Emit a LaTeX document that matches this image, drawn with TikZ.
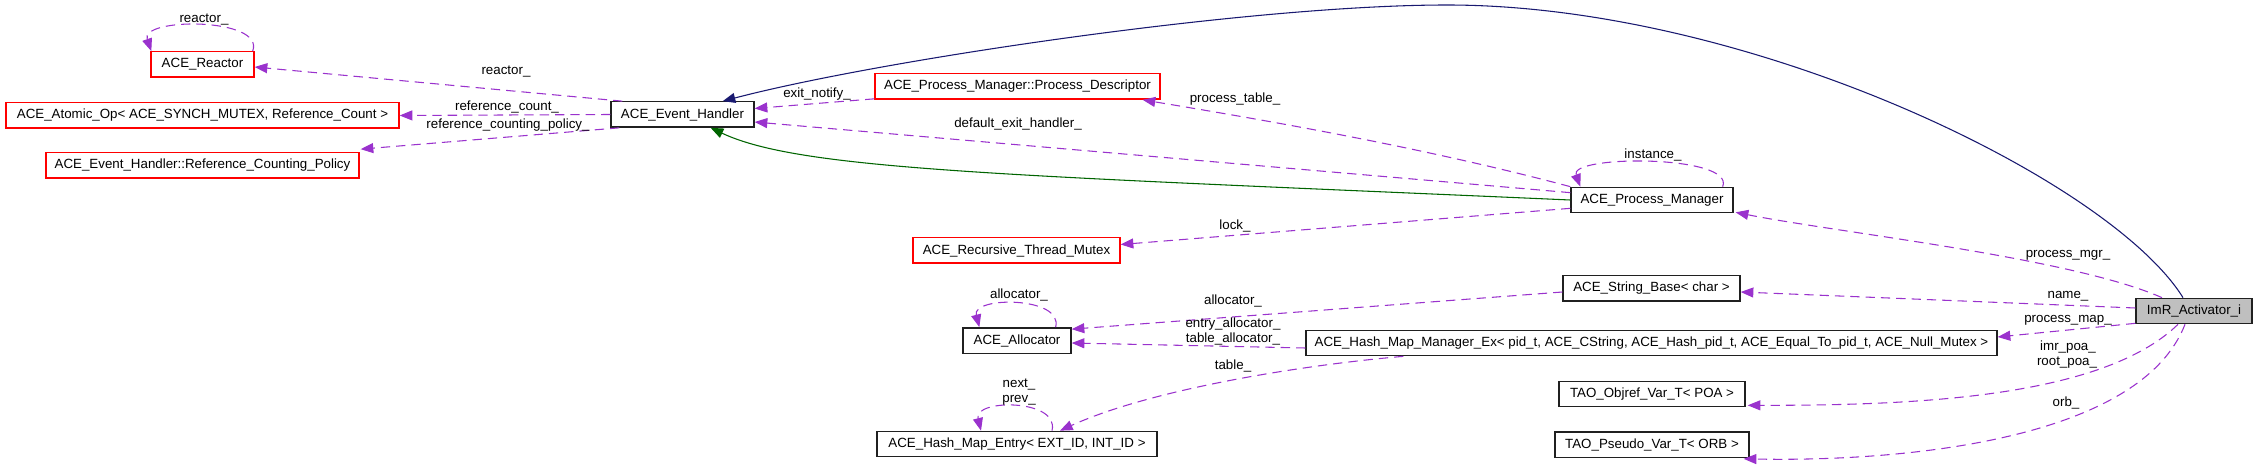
\documentclass[tikz,border=0pt]{standalone}
\usepackage{fontspec}
\setmainfont{Liberation Sans}
\usetikzlibrary{arrows.meta,calc}
\definecolor{depc}{HTML}{9A32CD}
\definecolor{inhblue}{HTML}{191970}
\definecolor{inhgreen}{HTML}{006400}
\definecolor{boxgray}{HTML}{BFBFBF}
\definecolor{boxline}{HTML}{202020}
\begin{document}
\begin{tikzpicture}[x=0.75pt,y=-0.75pt,
  font=\fontsize{10}{12}\selectfont,
  cls/.style={draw=boxline, line width=1pt, fill=white, minimum height=19pt, inner sep=0pt},
  redcls/.style={cls, draw=red},
  dep/.style={draw=depc, line width=0.8pt, dash pattern=on 7pt off 4.5pt, -{Triangle[length=9.5pt,width=7.5pt]}},
  inh/.style={line width=0.8pt, -{Triangle[length=9.5pt,width=7.5pt]}},
  lbl/.style={inner sep=0pt, text height=7pt, text depth=2pt}
]
\useasboundingbox (0,0) rectangle (2259,470);

% classes
\node[redcls, minimum width=77.25pt] (reactor) at (202.5,64.5) {ACE\_Reactor};
\node[redcls, minimum width=294.75pt] (atomic) at (202.5,115.5) {ACE\_Atomic\_Op< ACE\_SYNCH\_MUTEX, Reference\_Count >};
\node[redcls, minimum width=234.75pt] (rcp) at (202.5,165.5) {ACE\_Event\_Handler::Reference\_Counting\_Policy};
\node[cls, minimum width=107.25pt] (eh) at (682.5,114.5) {ACE\_Event\_Handler};
\node[redcls, minimum width=213.75pt] (pd) at (1017.5,86.5) {ACE\_Process\_Manager::Process\_Descriptor};
\node[redcls, minimum width=155.25pt] (rtm) at (1016.5,250.5) {ACE\_Recursive\_Thread\_Mutex};
\node[cls, minimum width=81pt] (alloc) at (1017,340.5) {ACE\_Allocator};
\node[cls, minimum width=210pt] (hme) at (1017,444) {ACE\_Hash\_Map\_Entry< EXT\_ID, INT\_ID >};
\node[cls, minimum width=121.5pt] (pm) at (1652,200) {ACE\_Process\_Manager};
\node[cls, minimum width=132.75pt] (sb) at (1651.5,288.5) {ACE\_String\_Base< char >};
\node[cls, minimum width=518.25pt] (hmm) at (1651.5,343) {ACE\_Hash\_Map\_Manager\_Ex< pid\_t, ACE\_CString, ACE\_Hash\_pid\_t, ACE\_Equal\_To\_pid\_t, ACE\_Null\_Mutex >};
\node[cls, minimum width=139.5pt] (objref) at (1652,394) {TAO\_Objref\_Var\_T< POA >};
\node[cls, minimum width=145.5pt] (pseudo) at (1652,444.5) {TAO\_Pseudo\_Var\_T< ORB >};
\node[cls, fill=boxgray, minimum width=87pt] (imr) at (2194,311) {ImR\_Activator\_i};

% inheritance
\draw[inh, inhblue] ($(imr.north)+(-11,0)$) .. controls (2110,180) and (1750,5) .. (1447,5)
   .. controls (1250,5) and (880,60) .. ($(eh.north east)+(-32,0)$);
\draw[inh, inhgreen] (pm.west) .. controls (1000,175) and (800,170) .. ($(eh.south east)+(-44,0)$);

% usage
\draw[dep] ($(reactor.north east)+(-2,0)$) .. controls +(13,-34) and +(-12,-34) .. ($(reactor.north west)+(1,0)$);
\draw[dep] ($(eh.north west)+(12,0)$) -- ($(reactor.east)+(0,2.5)$);
\draw[dep] (eh.west) -- (atomic.east);
\draw[dep] ($(eh.south west)+(9,0)$) -- ($(rcp.north east)+(1,-3)$);
\draw[dep] ($(pd.south west)+(0,-1)$) -- ($(eh.east)+(0,-6)$);
\draw[dep] ($(pm.north west)+(0,6)$) -- ($(eh.east)+(0,7.5)$);
\draw[dep] (pm.north west) .. controls +(-150,-40) and +(120,20) .. ($(pd.south east)+(-18,0)$);
\draw[dep] ($(pm.north east)+(-11,0)$) .. controls +(13,-32) and +(-12,-32) .. ($(pm.north west)+(10,0)$);
\draw[dep] ($(pm.south west)+(0,-5)$) -- ($(rtm.east)+(0,-6)$);
\draw[dep] ($(imr.north)+(-32,0)$) .. controls +(-90,-40) and +(100,20) .. ($(pm.south east)+(2,-1)$);
\draw[dep] ($(imr.west)+(0,-3)$) -- ($(sb.east)+(0,3.5)$);
\draw[dep] ($(sb.west)+(0,3.5)$) -- ($(alloc.north east)+(0,2)$);
\draw[dep] ($(hmm.west)+(0,5)$) -- ($(alloc.east)+(0,2.5)$);
\draw[dep] ($(hmm.south west)+(98,0)$) .. controls +(-104,9) and +(90,-41) .. ($(hme.north)+(43,0)$);
\draw[dep] ($(imr.south west)+(0,-1)$) -- ($(hmm.east)+(0,-6)$);
\draw[dep] ($(imr.south)+(-16,0)$) .. controls +(-78,76) and +(153,0) .. ($(objref.south east)+(2,-2)$);
\draw[dep] ($(imr.south)+(-9,0)$) .. controls +(-45,116) and +(159,3) .. ($(pseudo.south east)+(-6,1)$);
\draw[dep] ($(alloc.north east)+(-16,0)$) .. controls +(8,-31) and +(-8,-31) .. ($(alloc.north west)+(17,0)$);
\draw[dep] ($(hme.north)+(35,0)$) .. controls +(8,-32) and +(-8,-32) .. ($(hme.north)+(-36,0)$);

% labels
\node[lbl] (l1) at (204,19) {reactor\_};
\node[lbl] (l2) at (506,71) {reactor\_};
\node[lbl] (l3) at (507,107) {reference\_count\_};
\node[lbl] (l4) at (508,125) {reference\_counting\_policy\_};
\node[lbl] (l5) at (817,94) {exit\_notify\_};
\node[lbl] (l6) at (1235,99) {process\_table\_};
\node[lbl] (l7) at (1018,124) {default\_exit\_handler\_};
\node[lbl] (l8) at (1653,155) {instance\_};
\node[lbl] (l9) at (1235,226) {lock\_};
\node[lbl] (l10) at (2068,254) {process\_mgr\_};
\node[lbl] (l11) at (2068,295) {name\_};
\node[lbl] (l12) at (1233,301) {allocator\_};
\node[lbl] (l13) at (1233,324) {entry\_allocator\_};
\node[lbl] (l14) at (1233,339) {table\_allocator\_};
\node[lbl] (l15) at (2068,319) {process\_map\_};
\node[lbl] (l16) at (2068,347) {imr\_poa\_};
\node[lbl] (l17) at (2067,362) {root\_poa\_};
\node[lbl] (l18) at (1233,366) {table\_};
\node[lbl] (l19) at (2066,403) {orb\_};
\node[lbl] (l20) at (1019,295) {allocator\_};
\node[lbl] (l21) at (1019,384) {next\_};
\node[lbl] (l22) at (1019,399) {prev\_};
\end{tikzpicture}
\end{document}
